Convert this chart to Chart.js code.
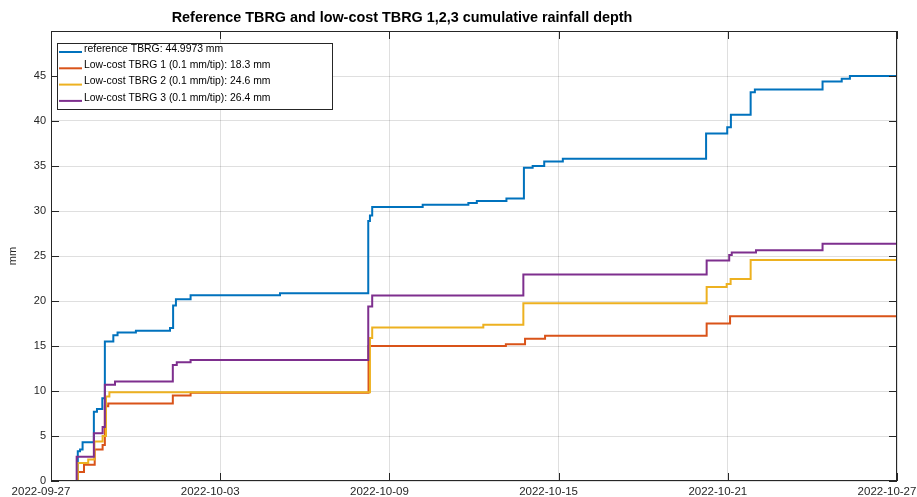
<!DOCTYPE html>
<html>
<head>
<meta charset="utf-8">
<script src="https://cdn.jsdelivr.net/npm/chart.js@4.4.1/dist/chart.umd.min.js"></script>
<style>
  html, body { margin: 0; padding: 0; background: #fff; }
  #wrap { width: 917px; height: 497px; }
</style>
</head>
<body>
<div id="wrap"><canvas id="chart"></canvas></div>
<script>
// x values are days since 2022-09-27 00:00
const startDate = Date.UTC(2022, 8, 27);
const xTickDays = [0, 6, 12, 18, 24, 30];
const yTickValues = [0, 5, 10, 15, 20, 25, 30, 35, 40, 45];

const titleText = 'Reference TBRG and low-cost TBRG 1,2,3 cumulative rainfall depth';
const seriesLabels = [
  'reference TBRG: 44.9973 mm',
  'Low-cost TBRG 1 (0.1 mm/tip): 18.3 mm',
  'Low-cost TBRG 2 (0.1 mm/tip): 24.6 mm',
  'Low-cost TBRG 3 (0.1 mm/tip): 26.4 mm'
];
const seriesColors = ['#0072BD', '#D95319', '#EDB120', '#7E2F8E'];

const refDays = [0, 0.95, 1.03, 1.12, 1.52, 1.63, 1.82, 1.91, 2.21, 2.36, 3.01, 4.22, 4.33, 4.43, 4.95, 8.12, 11.25, 11.31, 11.39, 13.18, 14.80, 15.10, 16.15, 16.77, 17.08, 17.49, 18.15, 23.23, 23.98, 24.11, 24.81, 24.96, 27.36, 28.04, 28.33, 30];
const refMm   = [0, 3.3, 3.5, 4.3, 7.7, 8.0, 9.2, 15.5, 16.2, 16.5, 16.7, 17.0, 19.5, 20.2, 20.65, 20.85, 28.9, 29.5, 30.45, 30.7, 30.9, 31.1, 31.4, 34.8, 35.0, 35.5, 35.8, 38.6, 39.3, 40.7, 43.2, 43.5, 44.4, 44.7, 45.0, 45.0];

const lc1Days = [0, 0.95, 1.17, 1.55, 1.83, 1.91, 2.03, 4.32, 4.95, 11.26, 16.13, 16.81, 17.52, 23.25, 24.08, 30];
const lc1Mm   = [0, 1.0, 1.8, 3.5, 4.0, 8.3, 8.6, 9.5, 9.8, 15.0, 15.2, 15.8, 16.15, 17.5, 18.3, 18.3];

const lc2Days = [0, 0.95, 1.32, 1.54, 1.83, 1.95, 2.07, 11.31, 11.39, 15.33, 16.75, 23.25, 23.96, 24.10, 24.81, 30];
const lc2Mm   = [0, 2.0, 2.4, 4.4, 5.0, 9.4, 9.85, 15.9, 17.05, 17.35, 19.75, 21.55, 21.9, 22.45, 24.55, 24.6];

const lc3Days = [0, 0.91, 1.52, 1.83, 1.91, 2.27, 4.32, 4.46, 4.95, 11.25, 11.39, 16.75, 23.25, 24.05, 24.14, 25.00, 27.36, 30];
const lc3Mm   = [0, 2.7, 5.3, 6.0, 10.7, 11.05, 12.9, 13.2, 13.45, 19.4, 20.6, 22.95, 24.5, 25.1, 25.4, 25.65, 26.35, 26.4];

const seriesDays = [refDays, lc1Days, lc2Days, lc3Days];
const seriesMm = [refMm, lc1Mm, lc2Mm, lc3Mm];

const FONT = "'Liberation Sans', Arial, Helvetica, sans-serif";
const AXIS_COLOR = '#262626';

function dayLabel(v) {
  return new Date(startDate + v * 86400000).toISOString().slice(0, 10);
}

// MATLAB-like box, inward ticks, title and legend
const matlabLook = {
  id: 'matlabLook',
  afterDatasetsDraw(chart) {
    const ctx = chart.ctx;
    const a = chart.chartArea;
    const xs = chart.scales.x, ys = chart.scales.y;
    const tick = 8;
    ctx.save();
    ctx.strokeStyle = AXIS_COLOR;
    ctx.lineWidth = 1;
    ctx.beginPath();
    xTickDays.forEach(v => {
      const px = Math.round(xs.getPixelForValue(v)) + 0.5;
      ctx.moveTo(px, a.bottom); ctx.lineTo(px, a.bottom - tick);
      ctx.moveTo(px, a.top); ctx.lineTo(px, a.top + tick);
    });
    yTickValues.forEach(v => {
      const py = Math.round(ys.getPixelForValue(v)) + 0.5;
      ctx.moveTo(a.left, py); ctx.lineTo(a.left + tick, py);
      ctx.moveTo(a.right, py); ctx.lineTo(a.right - tick, py);
    });
    ctx.stroke();
    ctx.strokeRect(Math.round(a.left) + 0.5, Math.round(a.top) + 0.5,
                   Math.round(a.right - a.left) - 1, Math.round(a.bottom - a.top) - 1);
    ctx.restore();
  },
  afterDraw(chart) {
    const ctx = chart.ctx;
    ctx.save();
    // title
    ctx.fillStyle = '#000';
    ctx.font = 'bold 14.4px ' + FONT;
    ctx.textAlign = 'center';
    ctx.textBaseline = 'middle';
    ctx.fillText(titleText, 402, 18);

    // legend
    const lx = 57, ly = 43, lw = 275, lh = 66;
    ctx.fillStyle = '#fff';
    ctx.fillRect(lx, ly, lw, lh);
    ctx.strokeStyle = AXIS_COLOR;
    ctx.lineWidth = 1;
    ctx.strokeRect(lx + 0.5, ly + 0.5, lw, lh);
    ctx.font = '10.4px ' + FONT;
    ctx.textAlign = 'left';
    chart.data.datasets.forEach((ds, i) => {
      const y = ly + 6 + i * 16.3;
      ctx.strokeStyle = ds.borderColor;
      ctx.lineWidth = 2;
      ctx.beginPath();
      ctx.moveTo(lx + 2, y + 3);
      ctx.lineTo(lx + 25, y + 3);
      ctx.stroke();
      ctx.fillStyle = '#000';
      ctx.fillText(ds.label, lx + 27, y);
    });
    ctx.restore();
  }
};

const datasets = seriesLabels.map((label, i) => ({
  label: label,
  data: seriesDays[i].map((d, j) => ({ x: d, y: seriesMm[i][j] })),
  borderColor: seriesColors[i],
  backgroundColor: seriesColors[i],
  borderWidth: 2,
  pointRadius: 0,
  stepped: true,
  fill: false,
  order: seriesLabels.length - i
}));

new Chart(document.getElementById('chart'), {
  type: 'line',
  data: { datasets: datasets },
  plugins: [matlabLook],
  options: {
    responsive: true,
    maintainAspectRatio: false,
    animation: false,
    events: [],
    layout: { padding: { top: 31, right: 20, left: 0, bottom: 0 } },
    plugins: {
      legend: { display: false },
      title: { display: false },
      tooltip: { enabled: false }
    },
    scales: {
      x: {
        type: 'linear',
        min: 0,
        max: 30,
        border: { display: false },
        grid: { color: 'rgba(38,38,38,0.15)', drawTicks: false },
        afterBuildTicks: s => { s.ticks = xTickDays.map(v => ({ value: v })); },
        afterFit: s => { s.height = 16; s.paddingLeft = 0; s.paddingRight = 0; },
        ticks: {
          autoSkip: false,
          maxRotation: 0,
          padding: 4,
          labelOffset: -10,
          color: AXIS_COLOR,
          font: { family: FONT, size: 11.5 },
          callback: v => dayLabel(v)
        }
      },
      y: {
        type: 'linear',
        min: 0,
        max: 50,
        border: { display: false },
        grid: { color: 'rgba(38,38,38,0.15)', drawTicks: false },
        afterBuildTicks: s => { s.ticks = yTickValues.map(v => ({ value: v })); },
        afterFit: s => { s.width = 51; s.paddingTop = 0; s.paddingBottom = 0; },
        ticks: {
          padding: 5,
          color: AXIS_COLOR,
          font: { family: FONT, size: 11 }
        },
        title: {
          display: true,
          text: 'mm',
          color: AXIS_COLOR,
          font: { family: FONT, size: 11 },
          padding: { top: 6, bottom: 0 }
        }
      }
    }
  }
});
</script>
</body>
</html>
